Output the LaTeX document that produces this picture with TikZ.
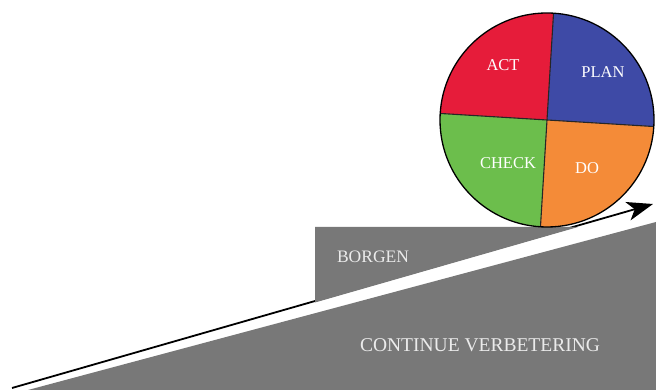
\documentclass[tikz,border=0pt]{standalone}
\usepackage{fontspec}
\setmainfont{Liberation Serif}
\usetikzlibrary{arrows.meta}

\definecolor{slopegray}{RGB}{120,120,120}
\definecolor{actred}{RGB}{230,28,58}
\definecolor{planblue}{RGB}{62,74,166}
\definecolor{checkgreen}{RGB}{108,190,76}
\definecolor{doorange}{RGB}{244,139,56}

\begin{document}
\begin{tikzpicture}[x=1pt,y=1pt,
    wheel/.style={text=white,font=\fontsize{16.5}{18}\selectfont},
    floor/.style={text=white!92!black,font=\fontsize{17.5}{19}\selectfont},
    divider/.style={draw=black!85,line width=1.1pt}]
  \useasboundingbox (0,0) rectangle (656,390);

  % slope and step
  \fill[slopegray] (28,0) -- (656,0) -- (656,168) -- cycle;
  \coordinate (start) at (12,2);
  \coordinate (tip) at (653,186);
  \draw[black,line width=1.8pt,-{Stealth[length=26pt,width=19pt,inset=7pt]}] (start) -- (tip);
  \fill[slopegray] (315,87.5) -- (315,163) -- (578,163) -- cycle;

  \node[floor] (borgen) at (373,133) {BORGEN};
  \node[floor,font=\fontsize{19.5}{21}\selectfont] (continue) at (480,45) {CONTINUE VERBETERING};

  % PDCA wheel
  \coordinate (c) at (547,270);
  \foreach \a/\col in {-3.5/planblue,86.5/actred,176.5/checkgreen,266.5/doorange}
    \fill[\col] (c) -- ++(\a:107) arc[start angle=\a,delta angle=90,radius=107] -- cycle;
  \draw[divider] (c) ++(86.5:107) -- ++(266.5:214);
  \draw[divider] (c) ++(176.5:107) -- ++(-3.5:214);
  \draw[black,line width=1.3pt] (c) circle[radius=107];

  \node[wheel] (act) at (503,325) {ACT};
  \node[wheel] (plan) at (603,318) {PLAN};
  \node[wheel] (check) at (508,227) {CHECK};
  \node[wheel] (do) at (587,222) {DO};
\end{tikzpicture}
\end{document}
